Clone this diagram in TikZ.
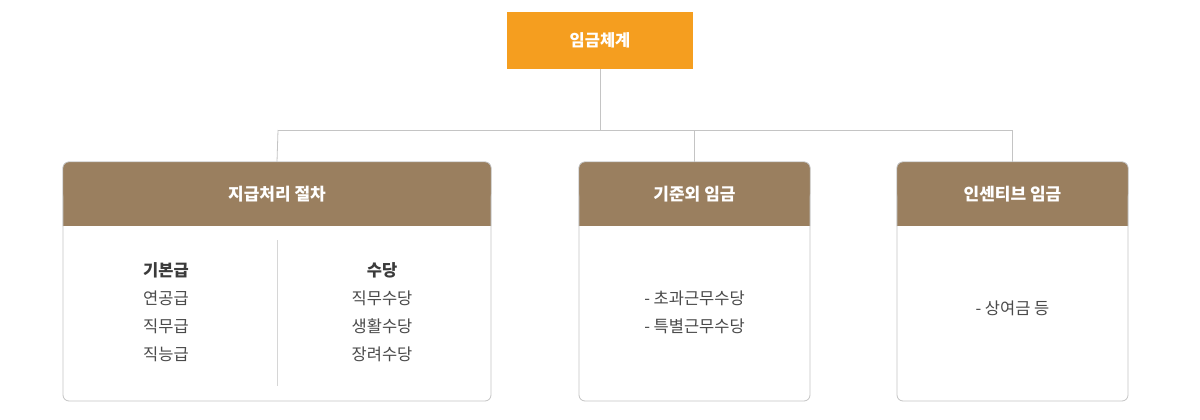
\documentclass[tikz,border=0pt]{standalone}
\usepackage{fontspec}
\setmainfont{Noto Sans CJK KR}
\definecolor{orangec}{HTML}{F59E1F}
\definecolor{brownc}{HTML}{9A7F5F}
\definecolor{linec}{HTML}{C4C4C4}
\definecolor{textc}{HTML}{4A4A4A}
\begin{document}
\begin{tikzpicture}[x=1pt,y=-1pt,
  conn/.style={draw=linec,line width=0.8pt},
  headtxt/.style={text=white,font=\fontsize{17}{20}\selectfont\bfseries,anchor=center},
  bodytxt/.style={text=textc,font=\fontsize{16.5}{28}\selectfont,align=center,anchor=center},
  boldtxt/.style={text=textc!80!black,font=\fontsize{16.5}{28}\selectfont\bfseries,anchor=center}]
\useasboundingbox[fill=white] (0,0) rectangle (1200,420);
% top node
\node[fill=orangec,minimum width=186pt,minimum height=57pt,inner sep=0pt,
      text=white,font=\fontsize{16.5}{19}\selectfont\bfseries] (top) at (600,40.5) {임금체계};
% connectors
\coordinate (j) at (600,130);
\coordinate (ja) at (278,130);
\coordinate (jb) at (694.5,130);
\coordinate (jc) at (1012.5,130);
% boxes
\foreach \nm/\xa/\xb in {A/63/491,B/579/810,C/897/1128}{
  \draw[draw=linec,line width=0.8pt,fill=white,rounded corners=6pt] (\xa,162) rectangle (\xb,401);
  \fill[brownc,rounded corners=6pt] (\xa,162) rectangle (\xb,200);
  \fill[brownc] (\xa,180) rectangle (\xb,226);
  \draw[draw=linec,line width=0.8pt,rounded corners=6pt] (\xa,226) -- (\xa,162) -- (\xb,162) -- (\xb,226);
  \fill[brownc,rounded corners=6pt] (\xa+0.4,162.4) rectangle (\xb-0.4,200);
  \coordinate (\nm top) at ({(\xa+\xb)/2},162);
}
\node[headtxt] (ha) at (277,194) {지급처리 절차};
\node[headtxt] (hb) at (694.5,194) {기준외 임금};
\node[headtxt] (hc) at (1012.5,194) {인센티브 임금};
\draw[conn] (top.south) -- (j);
\draw[conn] (ja) -- (jc);
\draw[conn] (ja) -- (Atop);
\draw[conn] (jb) -- (Btop);
\draw[conn] (jc) -- (Ctop);
% divider
\coordinate (d1) at (277.5,240);
\coordinate (d2) at (277.5,386);
\draw[draw=linec!70,line width=0.6pt] (d1) -- (d2);
% body texts
\node[boldtxt] (b1) at (166,270) {기본급};
\node[bodytxt] (b2) at (166,326) {연공급\\직무급\\직능급};
\node[boldtxt] (c1) at (382,270) {수당};
\node[bodytxt] (c2) at (382,326) {직무수당\\생활수당\\장려수당};
\node[bodytxt] (e1) at (694.5,312) {- 초과근무수당\\- 특별근무수당};
\node[bodytxt] (f1) at (1012.5,308) {- 상여금 등};
\end{tikzpicture}
\end{document}
